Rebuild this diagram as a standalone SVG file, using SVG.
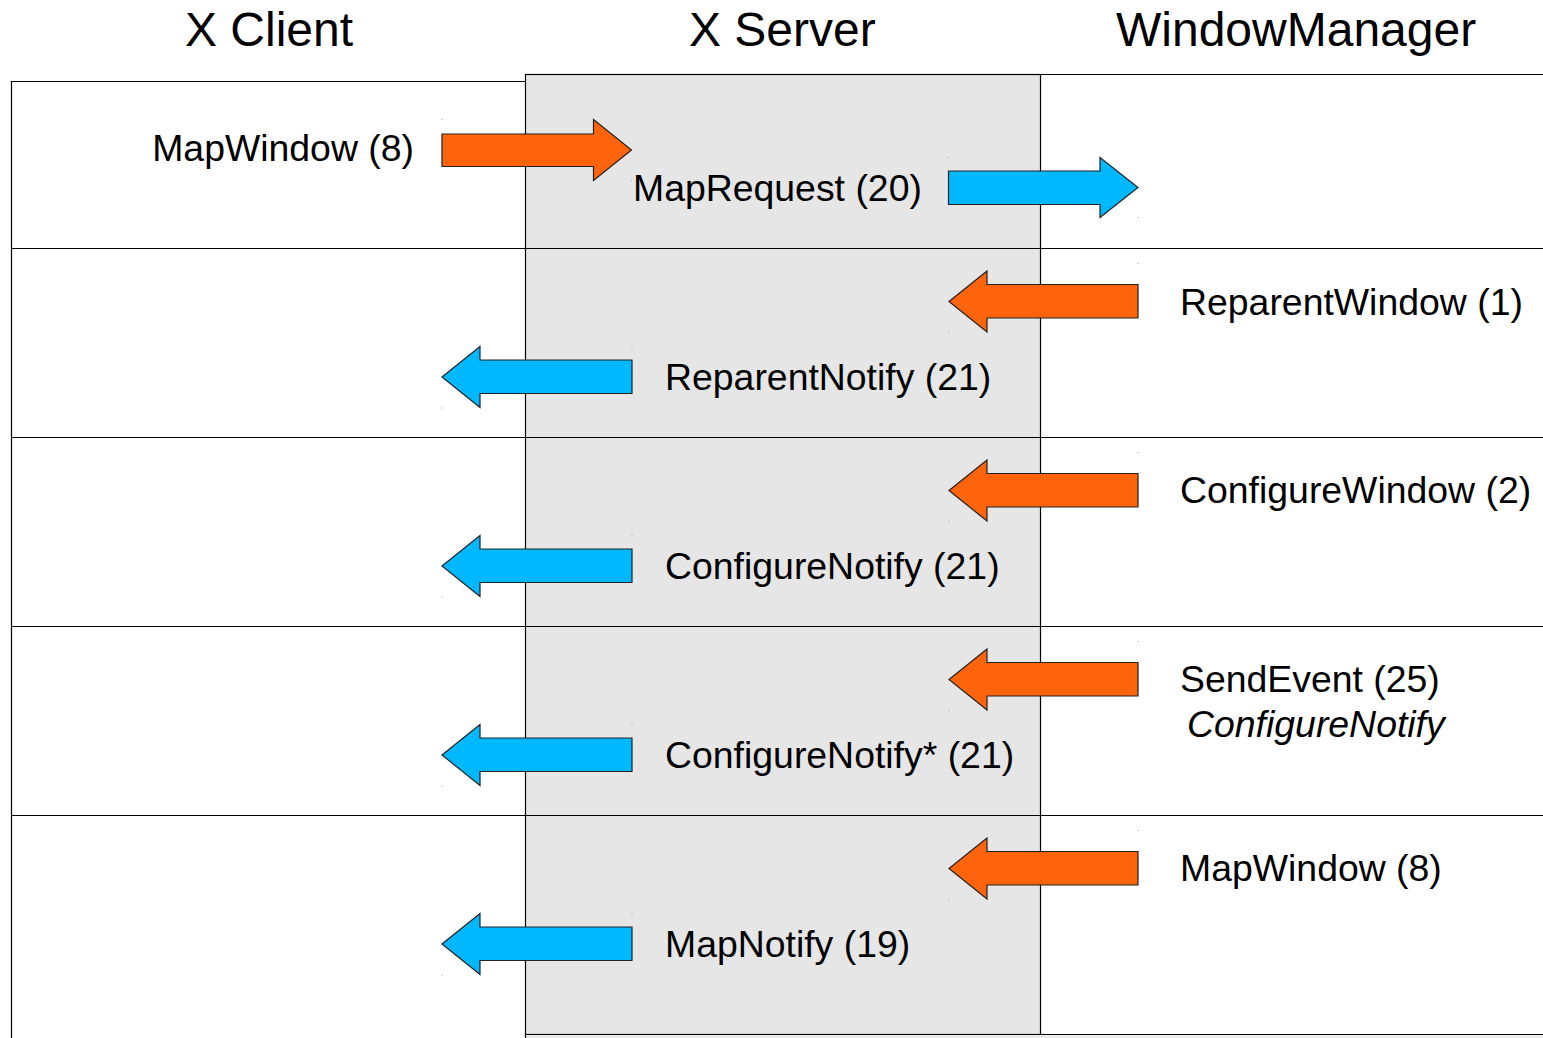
<svg xmlns="http://www.w3.org/2000/svg" width="1543" height="1038" viewBox="0 0 1543 1038">
<style>
.hdr{font-family:"Liberation Sans",Arial,sans-serif;font-size:48px;fill:#000}
.lbl{font-family:"Liberation Sans",Arial,sans-serif;font-size:37.4px;fill:#000}
.it{font-style:italic}
.ln{stroke:#000;stroke-width:1.2;fill:none}
.org{fill:#ff630c;stroke:#222;stroke-width:1.2;stroke-linejoin:miter}
.blu{fill:#00b8ff;stroke:#222;stroke-width:1.2;stroke-linejoin:miter}
.dot{fill:#999}
</style>
<defs>
<g id="orgL"><polygon class="org" points="949,301.5 987,271 987,284.5 1138,284.5 1138,318 987,318 987,332"/><rect class="dot" x="1137.5" y="263" width="1" height="1"/><rect class="dot" x="948.5" y="332" width="1" height="1"/></g>
<g id="bluL"><polygon class="blu" points="442,377 480,346.5 480,360 632,360 632,393.5 480,393.5 480,407.5"/><rect class="dot" x="631.5" y="346" width="1" height="1"/><rect class="dot" x="441.5" y="407.5" width="1" height="1"/></g>
</defs>
<rect width="1543" height="1038" fill="#fff"/>
<g id="lane-server"><rect x="525.5" y="74.5" width="515" height="960" fill="#e6e6e6" stroke="#000" stroke-width="1.2"/><rect x="526" y="1035.5" width="1017" height="3" fill="#ececec"/><line class="ln" x1="525.5" y1="1034" x2="525.5" y2="1038"/></g>
<g id="lane-client"><path class="ln" d="M11.5,1038 V81.5 H525.5"/></g>
<g id="lane-wm"><path class="ln" d="M1040.5,74.5 H1543 M1040.5,1034.5 H1543"/></g>
<g id="rows"><path class="ln" d="M11.5,248.5 H1543 M11.5,437.5 H1543 M11.5,626.5 H1543 M11.5,815.5 H1543"/></g>
<g id="headers">
<text id="h-client" class="hdr" x="185" y="46">X Client</text>
<text id="h-server" class="hdr" x="689" y="46">X Server</text>
<text id="h-wm" class="hdr" x="1116" y="46">WindowManager</text>
</g>
<g id="connectors">
<polygon class="org" points="442,134 593.5,134 593.5,119.5 631.5,150 593.5,180.5 593.5,166.5 442,166.5"/>
<rect class="dot" x="441.5" y="119" width="1" height="1"/><rect class="dot" x="631" y="180" width="1" height="1"/>
<polygon class="blu" points="948.5,171 1100,171 1100,157.5 1138,187.5 1100,217.5 1100,204.5 948.5,204.5"/>
<rect class="dot" x="948" y="157" width="1" height="1"/><rect class="dot" x="1137.5" y="217" width="1" height="1"/>
<use href="#orgL"/><use href="#bluL"/>
<use href="#orgL" transform="translate(0,189)"/><use href="#bluL" transform="translate(0,189)"/>
<use href="#orgL" transform="translate(0,378)"/><use href="#bluL" transform="translate(0,378)"/>
<use href="#orgL" transform="translate(0,567)"/><use href="#bluL" transform="translate(0,567)"/>
</g>
<g id="msg-mapwindow-client"><text class="lbl" x="414" y="161" text-anchor="end">MapWindow (8)</text></g>
<g id="msg-maprequest"><text class="lbl" x="633" y="201">MapRequest (20)</text></g>
<g id="msg-reparentwindow"><text class="lbl" x="1180" y="315">ReparentWindow (1)</text></g>
<g id="msg-reparentnotify"><text class="lbl" x="665" y="390">ReparentNotify (21)</text></g>
<g id="msg-configurewindow"><text class="lbl" x="1180" y="503">ConfigureWindow (2)</text></g>
<g id="msg-configurenotify"><text class="lbl" x="665" y="579">ConfigureNotify (21)</text></g>
<g id="msg-sendevent"><text class="lbl" x="1180" y="692">SendEvent (25)</text><text class="lbl it" x="1187" y="737">ConfigureNotify</text></g>
<g id="msg-configurenotify2"><text class="lbl" x="665" y="768">ConfigureNotify* (21)</text></g>
<g id="msg-mapwindow-wm"><text class="lbl" x="1180" y="881">MapWindow (8)</text></g>
<g id="msg-mapnotify"><text class="lbl" x="665" y="957">MapNotify (19)</text></g>
</svg>
